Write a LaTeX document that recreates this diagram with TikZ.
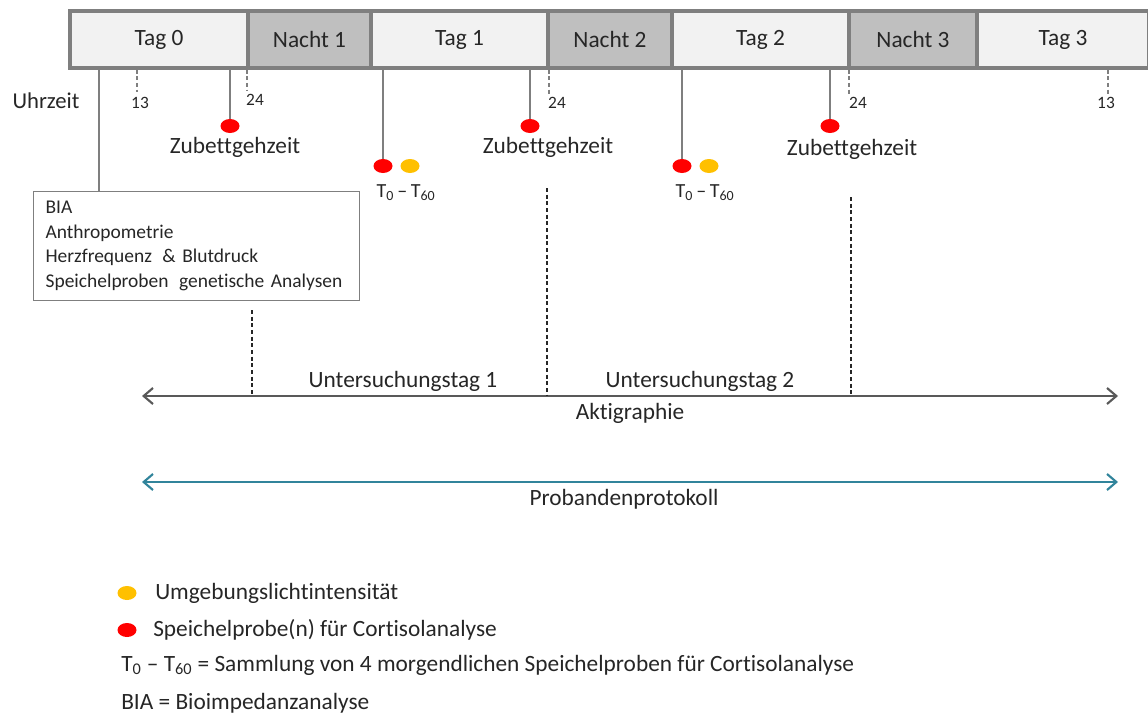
\documentclass[tikz,border=0pt]{standalone}
\usepackage{fontspec}
\setmainfont{Carlito}[Ligatures={NoCommon}]
\usetikzlibrary{arrows.meta,calc,shapes.geometric}
\definecolor{tagfill}{HTML}{F2F2F2}
\definecolor{nachtfill}{HTML}{BFBFBF}
\definecolor{barline}{HTML}{7F7F7F}
\definecolor{txt}{HTML}{262626}
\definecolor{aktcol}{HTML}{595959}
\definecolor{protcol}{HTML}{31849B}
\definecolor{dotred}{HTML}{FF0000}
\definecolor{dotyel}{HTML}{FFC000}
\tikzset{
  seg/.style={draw=barline, line width=2.4pt, minimum height={57*0.75pt}, inner sep=0pt,
    font=\fontsize{17.5}{20}\selectfont, text=txt},
  tagseg/.style={seg, fill=tagfill},
  nachtseg/.style={seg, fill=nachtfill},
  lbl/.style={font=\fontsize{17.5}{20}\selectfont, text=txt, inner sep=0pt},
  small/.style={font=\fontsize{13}{15}\selectfont, text=txt, inner sep=0pt},
  ellipse dot/.style={draw=none, ellipse, minimum width={19*0.75pt}, minimum height={14*0.75pt}, inner sep=0pt},
  reddot/.style={ellipse dot, fill=dotred},
  yeldot/.style={ellipse dot, fill=dotyel},
  vline/.style={draw=barline, line width=1pt},
  tick/.style={draw=barline, line width=0.8pt, dash pattern=on 3pt off 2pt},
  dline/.style={draw=black!85, line width=0.8pt, dash pattern=on 3pt off 2pt},
  spanarrow/.style={line width=2.2pt, {Straight Barb[length=7pt,width=12pt,line width=1.6pt]}-{Straight Barb[length=7pt,width=12pt,line width=1.6pt]}},
}
\begin{document}
\begin{tikzpicture}[x=0.75pt,y=-0.75pt]
\useasboundingbox (0,0) rectangle (1148,715);
% top bar
\node[tagseg, minimum width={178*0.75pt}] (t0) at (159,39.5) {Tag 0};
\node[nachtseg, minimum width={123*0.75pt}] (n1) at (309.5,39.5) {Nacht 1};
\node[tagseg, minimum width={177*0.75pt}] (t1) at (459.5,39.5) {Tag 1};
\node[nachtseg, minimum width={124*0.75pt}] (n2) at (610,39.5) {Nacht 2};
\node[tagseg, minimum width={177*0.75pt}] (t2) at (760.5,39.5) {Tag 2};
\node[nachtseg, minimum width={128*0.75pt}] (n3) at (913,39.5) {Nacht 3};
\node[tagseg, minimum width={172*0.75pt}] (t3) at (1063,39.5) {Tag 3};

% clock labels
\node[lbl, font=\fontsize{17}{20}\selectfont] (uhr) at (46,101) {Uhrzeit};
\node[small] (h13a) at (140,103) {13};
\node[small] (h24a) at (255,100) {24};
\node[small] (h24b) at (557,103) {24};
\node[small] (h24c) at (858,103) {24};
\node[small] (h13b) at (1106,103) {13};
\draw[tick] (t0.south -| 137,0) -- (137,92);
\draw[tick] (t0.south -| 247,0) -- (247,91);
\draw[tick] (t1.south -| 549,0) -- (549,94);
\draw[tick] (t2.south -| 849,0) -- (849,94);
\draw[tick] (t3.south -| 1108,0) -- (1108,94);

% bedtime
\node[reddot] (z0) at (230,126) {};
\node[lbl] (zt0) at (235,147) {Zubettgehzeit};
\node[reddot] (z1) at (530,126) {};
\node[lbl] (zt1) at (548,147) {Zubettgehzeit};
\node[reddot] (z2) at (830,126) {};
\node[lbl] (zt2) at (852,149) {Zubettgehzeit};
\draw[vline] (z0 |- t0.south) -- (z0.north);
\draw[vline] (z1 |- t1.south) -- (z1.north);
\draw[vline] (z2 |- t2.south) -- (z2.north);

% morning samples
\node[reddot] (r1) at (383,166) {};
\node[yeldot] (y1) at (410,166) {};
\node[lbl, font=\fontsize{15}{17}\selectfont] (tt1) at (406,193) {T\textsubscript{0}\,--\,T\textsubscript{60}};
\node[reddot] (r2) at (682,166) {};
\node[yeldot] (y2) at (709,166) {};
\node[lbl, font=\fontsize{15}{17}\selectfont] (tt2) at (705,193) {T\textsubscript{0}\,--\,T\textsubscript{60}};
\draw[vline] (r1 |- t1.south) -- (r1.north);
\draw[vline] (r2 |- t2.south) -- (r2.north);

% BIA box
\node[draw=barline, line width=0.9pt, anchor=north west, minimum width={326*0.75pt}, minimum height={109*0.75pt},
  inner xsep={12*0.75pt}, inner ysep=0pt, align=left, text=txt,
  font=\fontsize{14.6}{18.4}\selectfont, text width={302*0.75pt}] (bia) at (33,191)
  {\mbox{BIA}\\\mbox{Anthropometrie}\\\mbox{Herzfrequenz\hspace{3pt} \& Blutdruck}\\\mbox{Speichelproben\hspace{3pt} genetische Analysen}};
\coordinate (l0) at (99,0);
\draw[vline] (l0 |- t0.south) -- (l0 |- bia.north);

% span arrows
\coordinate (aL) at (142,396);
\coordinate (aR) at (1118,396);
\coordinate (pL) at (142,482);
\coordinate (pR) at (1118,482);
\draw[spanarrow, aktcol] (aL) -- (aR);
\draw[spanarrow, protcol] (pL) -- (pR);
\node[lbl] (akt) at (630,413) {Aktigraphie};
\node[lbl] (prot) at (624,499) {Probandenprotokoll};
\node[lbl] (u1) at (403,381) {Untersuchungstag 1};
\node[lbl] (u2) at (700,381) {Untersuchungstag 2};
\coordinate (d1) at (252,310);
\coordinate (d2) at (547,188);
\coordinate (d3) at (851,197);
\draw[dline] (d1) -- (d1 |- aL);
\draw[dline] (d2) -- (d2 |- aL);
\draw[dline] (d3) -- (d3 |- aL);

% legend
\node[yeldot] (ly) at (127,593) {};
\node[lbl, anchor=west] (lyt) at (155,593) {Umgebungslichtintensität};
\node[reddot] (lr) at (127,630) {};
\node[lbl, anchor=west] (lrt) at (153,630) {Speichelprobe(n) für Cortisolanalyse};
\node[lbl, anchor=west] (lt) at (121,665) {T\textsubscript{0} -- T\textsubscript{60} = Sammlung von 4 morgendlichen Speichelproben für Cortisolanalyse};
\node[lbl, anchor=west] (lb) at (121,703) {BIA = Bioimpedanzanalyse};
\end{tikzpicture}
\end{document}
